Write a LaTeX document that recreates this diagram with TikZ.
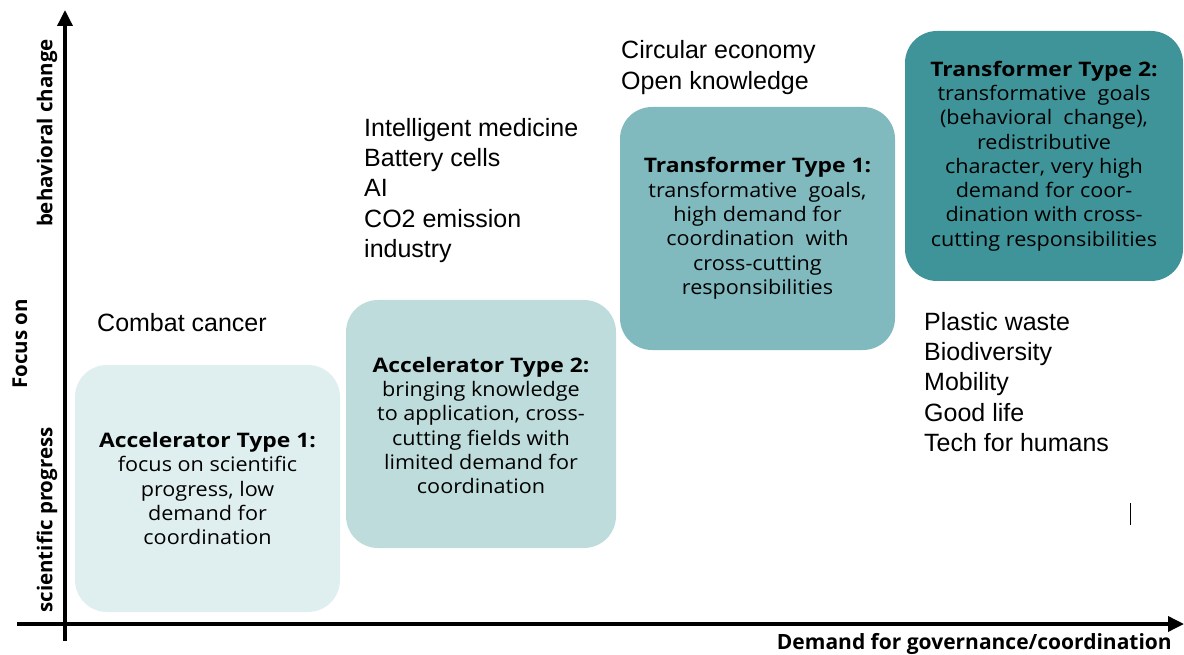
\documentclass[tikz,border=0pt]{standalone}
\usepackage{fontspec}
\setmainfont{Liberation Sans}
\newfontfamily\boxfont{Open Sans}
\usetikzlibrary{arrows.meta}
\definecolor{cA}{HTML}{DFEFEF}
\definecolor{cB}{HTML}{BEDCDC}
\definecolor{cC}{HTML}{80B9BE}
\definecolor{cD}{HTML}{3F9499}
\newcommand\hd[1]{\scalebox{1.06}[1]{\textbf{#1}}}
\begin{document}
\begin{tikzpicture}[x=1pt,y=-1pt,
  box/.style={rounded corners=32pt, inner sep=0pt},
  boxtext/.style={align=center, inner sep=0pt, xscale=1.08,
    font=\boxfont\fontsize{20}{24.3}\selectfont},
  axisline/.style={line width=3.5pt, -{Triangle[length=16pt,width=15pt]}},
  plain/.style={anchor=west, align=left, inner sep=0pt,
    font=\fontsize{25}{30.3}\selectfont},
  ylab/.style={rotate=90, inner sep=0pt, font=\boxfont\bfseries\fontsize{20.5}{22}\selectfont}]
\useasboundingbox (0,0) rectangle (1184,655);
% boxes
\node[box, fill=cA, minimum width=265pt, minimum height=247pt] (acc1) at (207.5,488.5) {};
\node[box, fill=cB, minimum width=270pt, minimum height=248pt] (acc2) at (481,424) {};
\node[box, fill=cC, minimum width=275pt, minimum height=243pt] (tr1) at (757.5,228.5) {};
\node[box, fill=cD, minimum width=278pt, minimum height=250pt] (tr2) at (1044,156) {};
\node[boxtext] (acc1t) at (acc1.center)
  {\hd{Accelerator Type 1:}\\focus on scientific\\progress, low\\demand for\\coordination};
\node[boxtext] (acc2t) at ([yshift=-1.5pt]acc2.center)
  {\hd{Accelerator Type 2:}\\bringing knowledge\\to application, cross-\\cutting fields with\\limited demand for\\coordination};
\node[boxtext] (tr1t) at (tr1.center)
  {\hd{Transformer Type 1:}\\transformative\ \ goals,\\high demand for\\coordination\ \ with\\cross-cutting\\responsibilities};
\node[boxtext] (tr2t) at (tr2.center)
  {\hd{Transformer Type 2:}\\transformative\ \ goals\\(behavioral\ \ change),\\redistributive\\character, very high\\demand for coor-\\dination with cross-\\cutting responsibilities};
% plain lists
\node[plain] (cancer) at (97,323) {Combat cancer};
\node[plain] (mid) at (364,190.5) {Intelligent medicine\\Battery cells\\AI\\CO2 emission\\industry};
\node[plain] (circ) at (621,67.5) {Circular economy\\Open knowledge};
\node[plain] (plast) at (924,382) {Plastic waste\\Biodiversity\\Mobility\\Good life\\Tech for humans};
% axes
\coordinate (ybot) at (65,641);
\coordinate (ytop) at (65,10);
\coordinate (xleft) at (17,624);
\coordinate (xright) at (1184,624);
\draw[axisline] (ybot) -- (ytop);
\draw[axisline] (xleft) -- (xright);
% axis labels
\node[anchor=base east, inner sep=0pt, font=\boxfont\bfseries\fontsize{21}{22}\selectfont] (xlab) at (1172,649) {Demand for governance/coordination};
\node[ylab] (ylab1) at (47,133) {behavioral change};
\node[ylab] (ylab2) at (20,344) {Focus on};
\node[ylab] (ylab3) at (47,520) {scientific progress};
% stray mark
\coordinate (m1) at (1130,503);
\coordinate (m2) at (1130,525);
\draw[line width=1pt] (m1) -- (m2);
\end{tikzpicture}
\end{document}
